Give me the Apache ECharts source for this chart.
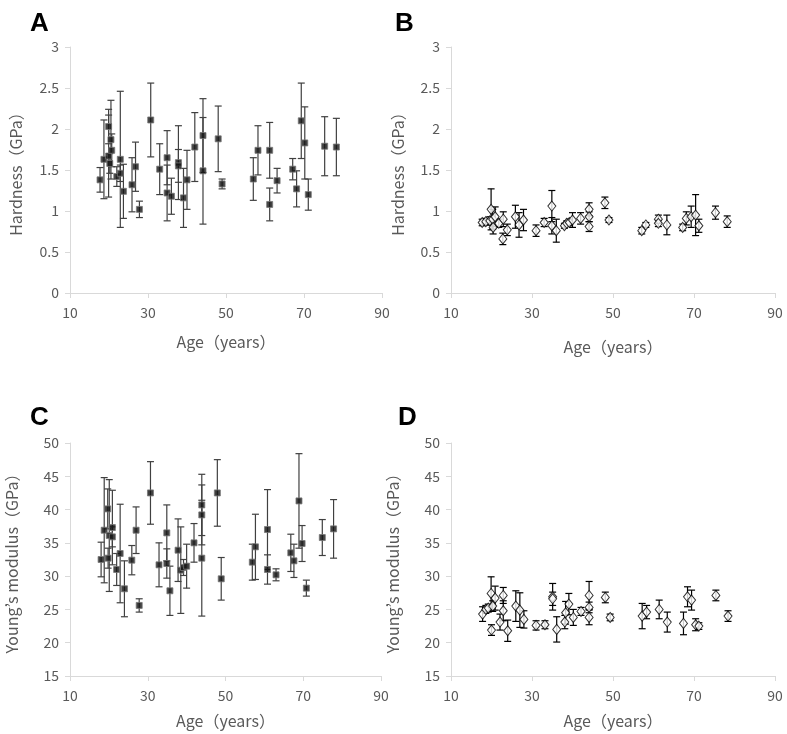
<!DOCTYPE html>
<html>
<head>
<meta charset="utf-8">
<script src="https://cdn.jsdelivr.net/npm/echarts@6/dist/echarts.min.js"></script>
<style>
  html, body { margin: 0; padding: 0; background: #fff; }
  #chart { width: 787px; height: 734px; }
</style>
</head>
<body>
<div id="chart"></div>
<script>
// A: hardness, group 1 (filled squares)
var ageA = [17.7, 18.7, 19.9, 19.9, 20.2, 20.5, 20.7, 22.0, 22.9, 22.9, 23.7, 25.9, 26.8, 27.8, 30.7, 33.0, 34.9, 34.9, 36.0, 37.8,
  37.8, 39.1, 40.0, 42.0, 44.1, 44.1, 48.0, 49.0, 57.0, 58.2, 61.2, 61.2, 63.1, 67.1, 68.1, 69.3, 70.2, 71.1, 75.3, 78.3]
var hardA = [1.38, 1.63, 2.03, 1.67, 1.58, 1.87, 1.74, 1.42, 1.46, 1.63, 1.24, 1.32, 1.54, 1.02, 2.11, 1.51, 1.65, 1.22, 1.18, 1.59,
  1.55, 1.16, 1.38, 1.78, 1.92, 1.49, 1.88, 1.33, 1.39, 1.74, 1.74, 1.08, 1.37, 1.51, 1.27, 2.10, 1.83, 1.20, 1.79, 1.78]
var hardSdA = [0.15, 0.48, 0.21, 0.50, 0.12, 0.48, 0.20, 0.12, 0.10, 0.83, 0.33, 0.33, 0.30, 0.10, 0.45, 0.31, 0.33, 0.34, 0.22, 0.45,
  0.20, 0.36, 0.36, 0.42, 0.45, 0.65, 0.40, 0.06, 0.26, 0.30, 0.34, 0.20, 0.15, 0.13, 0.22, 0.46, 0.44, 0.19, 0.36, 0.35]

// B: hardness, group 2 (open diamonds)
var ageB = [17.7, 18.6, 19.6, 19.9, 20.3, 20.4, 20.9, 21.8, 22.9, 22.8, 23.9, 25.9, 26.8, 27.9, 31.0, 33.0, 34.9, 34.9, 36.0, 38.0,
  38.6, 39.2, 40.0, 42.0, 44.1, 44.1, 44.1, 48.0, 49.0, 57.1, 58.1, 61.2, 61.2, 63.3, 67.2, 68.1, 69.3, 70.4, 71.2, 75.3, 78.2]
var hardB = [0.86, 0.87, 0.88, 1.02, 0.90, 0.80, 0.93, 0.85, 0.90, 0.66, 0.77, 0.93, 0.83, 0.89, 0.76, 0.86, 1.06, 0.82, 0.76, 0.82,
  0.85, 0.86, 0.89, 0.91, 1.02, 0.93, 0.81, 1.10, 0.89, 0.76, 0.83, 0.90, 0.85, 0.83, 0.80, 0.91, 0.93, 0.95, 0.82, 0.98, 0.87]
var hardSdB = [0.04, 0.04, 0.05, 0.25, 0.12, 0.08, 0.12, 0.05, 0.09, 0.07, 0.07, 0.14, 0.15, 0.13, 0.07, 0.05, 0.19, 0.10, 0.14, 0.03,
  0.03, 0.04, 0.09, 0.07, 0.08, 0.06, 0.06, 0.07, 0.03, 0.04, 0.03, 0.05, 0.04, 0.12, 0.04, 0.08, 0.13, 0.25, 0.08, 0.08, 0.07]

// C: Young's modulus, group 1
var ageC = [18.0, 18.8, 19.7, 19.8, 20.1, 20.9, 20.9, 22.0, 22.9, 24.0, 25.9, 27.0, 27.8, 30.7, 32.9, 34.9, 34.9, 35.7, 37.8, 38.5,
  39.2, 40.0, 41.9, 43.9, 43.9, 43.9, 47.9, 48.9, 56.9, 57.7, 60.8, 60.8, 63.0, 66.8, 67.6, 68.9, 69.7, 70.8, 74.9, 77.8]
var modC = [32.5, 36.9, 40.1, 32.7, 36.1, 37.3, 35.9, 31.0, 33.4, 28.1, 32.4, 36.9, 25.6, 42.5, 31.7, 36.5, 31.9, 27.8, 33.9, 30.9,
  31.3, 31.5, 35.0, 40.7, 39.2, 32.7, 42.5, 29.6, 32.1, 34.4, 37.0, 31.0, 30.2, 33.5, 32.3, 41.3, 34.9, 28.2, 35.8, 37.1]
var modSdC = [2.6, 7.9, 3.0, 1.5, 8.4, 5.6, 1.5, 2.4, 7.4, 4.2, 2.2, 3.5, 1.0, 4.7, 3.3, 4.2, 2.2, 3.7, 4.7, 6.5,
  1.2, 3.3, 2.9, 4.6, 4.5, 8.7, 5.0, 3.2, 2.7, 4.9, 6.0, 2.2, 0.9, 2.8, 2.5, 7.1, 2.7, 1.2, 2.7, 4.4]

// D: Young's modulus, group 2
var ageD = [17.8, 18.6, 19.2, 19.9, 20.0, 20.3, 20.9, 22.1, 22.9, 22.9, 24.0, 26.0, 27.0, 28.0, 31.0, 33.2, 35.1, 35.1, 36.1, 38.1,
  38.3, 39.1, 40.2, 42.1, 44.1, 44.1, 44.1, 48.1, 49.3, 57.2, 58.3, 61.4, 63.4, 67.4, 68.4, 69.4, 70.4, 71.2, 75.4, 78.4]
var modD = [24.3, 25.0, 25.2, 27.4, 21.9, 25.5, 26.7, 23.1, 27.1, 24.8, 21.8, 25.5, 24.9, 23.5, 22.6, 22.7, 26.9, 26.6, 22.0, 23.1,
  24.5, 25.8, 23.8, 24.7, 27.1, 25.3, 23.8, 26.8, 23.8, 24.0, 24.6, 25.0, 23.1, 22.9, 26.9, 26.4, 22.7, 22.5, 27.1, 24.0]
var modSdD = [1.1, 0.6, 0.6, 2.5, 0.8, 0.8, 1.8, 1.2, 1.2, 1.5, 1.6, 2.3, 2.6, 1.3, 0.7, 0.6, 2.0, 1.0, 1.9, 1.0,
  1.7, 1.6, 1.2, 0.6, 2.1, 0.8, 1.1, 0.8, 0.5, 1.9, 1.0, 1.4, 1.5, 1.7, 1.5, 1.5, 0.9, 0.5, 0.8, 0.8]

var ageTicks = [10, 90, 20]
var hardTicks = [0, 3, 0.5]
var modTicks = [15, 50, 5]

var txt = '#595959'
var axisGray = '#d9d9d9'
var font = "'Noto Sans CJK JP', 'Noto Sans', sans-serif"

var chart = echarts.init(document.getElementById('chart'))

function xAx (idx, gap) {
  return {
    gridIndex: idx, type: 'value',
    min: ageTicks[0], max: ageTicks[1], interval: ageTicks[2],
    name: 'Age（years）', nameLocation: 'middle', nameGap: gap,
    nameTextStyle: { color: txt, fontSize: 16, fontFamily: font },
    axisLine: { show: true, lineStyle: { color: axisGray } },
    axisTick: { show: true, length: 5, lineStyle: { color: axisGray } },
    axisLabel: { color: txt, fontSize: 14, fontFamily: font, margin: 13 },
    splitLine: { show: false }
  }
}

function yAx (idx, ticks, name, gap) {
  return {
    gridIndex: idx, type: 'value',
    min: ticks[0], max: ticks[1], interval: ticks[2],
    name: name, nameLocation: 'middle', nameGap: gap,
    nameTextStyle: { color: txt, fontSize: 16, fontFamily: font },
    axisLine: { show: true, lineStyle: { color: axisGray } },
    axisTick: { show: true, length: 5, lineStyle: { color: axisGray } },
    axisLabel: { color: txt, fontSize: 14, fontFamily: font, margin: 11 },
    splitLine: { show: false }
  }
}

function errBars (idx, ages, means, sds, color) {
  return {
    type: 'custom', xAxisIndex: idx, yAxisIndex: idx, z: 2,
    silent: true,
    encode: { x: 0, y: [1, 2] },
    data: ages.map(function (a, i) { return [a, means[i] - sds[i], means[i] + sds[i]] }),
    renderItem: function (params, api) {
      var lo = api.coord([api.value(0), api.value(1)])
      var hi = api.coord([api.value(0), api.value(2)])
      var w = 3.5
      var st = { stroke: color, lineWidth: 1.2 }
      return {
        type: 'group',
        children: [
          { type: 'line', shape: { x1: hi[0], y1: hi[1], x2: lo[0], y2: lo[1] }, style: st },
          { type: 'line', shape: { x1: hi[0] - w, y1: hi[1], x2: hi[0] + w, y2: hi[1] }, style: st },
          { type: 'line', shape: { x1: lo[0] - w, y1: lo[1], x2: lo[0] + w, y2: lo[1] }, style: st }
        ]
      }
    }
  }
}

function squares (idx, ages, vals) {
  return {
    type: 'scatter', xAxisIndex: idx, yAxisIndex: idx, z: 3,
    symbol: 'rect', symbolSize: 6,
    itemStyle: { color: '#111', borderColor: '#777', borderWidth: 1 },
    data: ages.map(function (a, i) { return [a, vals[i]] })
  }
}

function diamonds (idx, ages, vals) {
  return {
    type: 'scatter', xAxisIndex: idx, yAxisIndex: idx, z: 3,
    symbol: 'diamond', symbolSize: [8, 10],
    itemStyle: { color: '#fff', borderColor: '#000', borderWidth: 1 },
    data: ages.map(function (a, i) { return [a, vals[i]] })
  }
}

var letterStyle = { fontSize: 26, fontWeight: 'bold', color: '#000', fontFamily: "'Liberation Sans', sans-serif" }

var option = {
  backgroundColor: '#fff',
  animation: false,
  title: [
    { text: 'A', left: 25, top: 6, textStyle: letterStyle },
    { text: 'B', left: 390, top: 6, textStyle: letterStyle },
    { text: 'C', left: 25, top: 400, textStyle: letterStyle },
    { text: 'D', left: 393, top: 400, textStyle: letterStyle }
  ],
  grid: [
    { left: 70, top: 47, width: 312, height: 246, outerBoundsMode: 'none' },
    { left: 451, top: 47, width: 324, height: 246, outerBoundsMode: 'none' },
    { left: 70, top: 443, width: 311, height: 233, outerBoundsMode: 'none' },
    { left: 451, top: 443, width: 324, height: 233, outerBoundsMode: 'none' }
  ],
  xAxis: [xAx(0, 41), xAx(1, 46), xAx(2, 37), xAx(3, 37)],
  yAxis: [
    yAx(0, hardTicks, 'Hardness（GPa）', 46),
    yAx(1, hardTicks, 'Hardness（GPa）', 45),
    yAx(2, modTicks, 'Young’s modulus（GPa）', 50),
    yAx(3, modTicks, 'Young’s modulus（GPa）', 50)
  ],
  series: [
    errBars(0, ageA, hardA, hardSdA, '#404040'),
    squares(0, ageA, hardA),
    errBars(1, ageB, hardB, hardSdB, '#000'),
    diamonds(1, ageB, hardB),
    errBars(2, ageC, modC, modSdC, '#404040'),
    squares(2, ageC, modC),
    errBars(3, ageD, modD, modSdD, '#000'),
    diamonds(3, ageD, modD)
  ]
}

chart.setOption(option)
</script>
</body>
</html>
